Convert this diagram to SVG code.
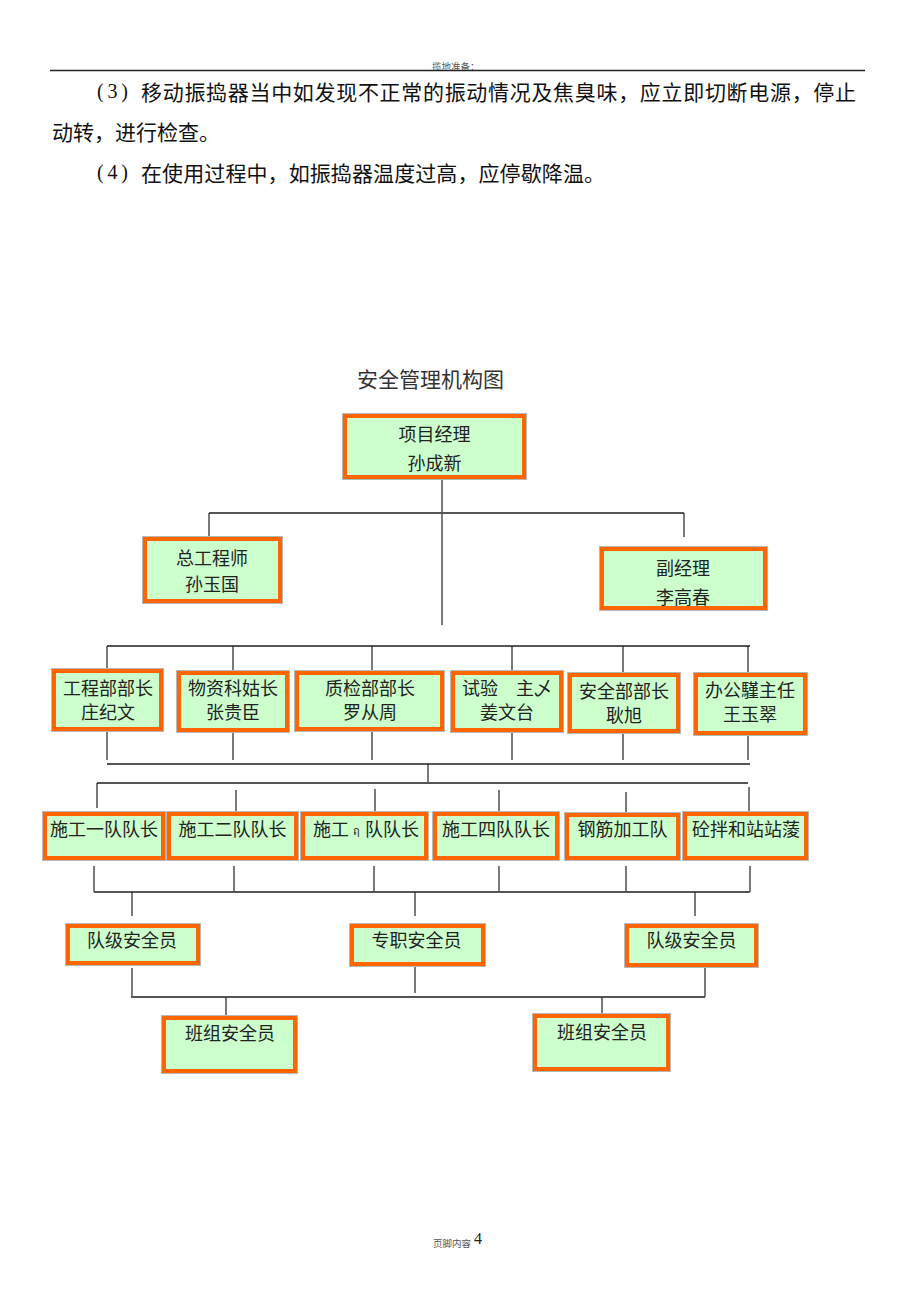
<svg xmlns="http://www.w3.org/2000/svg" width="920" height="1302" viewBox="0 0 920 1302">
<style>
.bg{fill:#fff}
.box{fill:#CCFFCC;stroke:#FF6600;stroke-width:4}
.edge{fill:none;stroke:#b8b8b8;stroke-width:1}
.t{font-family:"Noto Sans CJK SC","Noto Sans",sans-serif;font-size:18px;fill:#222;text-anchor:middle;dominant-baseline:central}
.body{font-family:"Noto Sans CJK SC",sans-serif;font-size:21px;fill:#111;dominant-baseline:central}
.num{font-family:"Liberation Serif",serif;font-size:20px;fill:#111;dominant-baseline:central}
.small{font-family:"Noto Sans CJK SC",sans-serif;font-size:9.5px;fill:#555;dominant-baseline:central}
.h{stroke:#555;stroke-width:2;fill:none}
.v{stroke:#222;stroke-width:1.2;fill:none}
</style>
<rect class="bg" x="0" y="0" width="920" height="1302"/>

<g id="page-header">
<text class="small" x="432" y="66">揽地准备：</text>
<line x1="50" y1="70.5" x2="865" y2="70.5" stroke="#222" stroke-width="1.5"/>
</g>

<g id="body-text">
<text class="num" x="97" y="91" textLength="31" lengthAdjust="spacing">(3)</text>
<text class="body" x="141" y="91" textLength="715" lengthAdjust="spacing">移动振捣器当中如发现不正常的振动情况及焦臭味，应立即切断电源，停止</text>
<text class="body" x="52" y="131">动转，进行检查。</text>
<text class="num" x="97" y="172" textLength="31" lengthAdjust="spacing">(4)</text>
<text class="body" x="141" y="172" textLength="464" lengthAdjust="spacing">在使用过程中，如振捣器温度过高，应停歇降温。</text>
</g>

<g id="title">
<text class="body" x="357" y="378" style="fill:#333">安全管理机构图</text>
</g>

<g id="connectors">
<line class="v" x1="442" y1="479" x2="442" y2="625"/>
<line class="h" x1="209" y1="513" x2="684" y2="513"/>
<line class="v" x1="209" y1="513" x2="209" y2="537" stroke-width="2"/>
<line class="v" x1="684" y1="513" x2="684" y2="537"/>

<line class="h" x1="107" y1="646" x2="750" y2="646"/>
<line class="v" x1="107" y1="646" x2="107" y2="670"/>
<line class="v" x1="233" y1="646" x2="233" y2="671"/>
<line class="v" x1="372" y1="646" x2="372" y2="671"/>
<line class="v" x1="512" y1="646" x2="512" y2="671"/>
<line class="v" x1="623" y1="646" x2="623" y2="673"/>
<line class="v" x1="748" y1="646" x2="748" y2="673"/>

<line class="v" x1="107" y1="731" x2="107" y2="760"/>
<line class="v" x1="233" y1="732" x2="233" y2="760"/>
<line class="v" x1="372" y1="731" x2="372" y2="760"/>
<line class="v" x1="512" y1="732" x2="512" y2="760"/>
<line class="v" x1="623" y1="733" x2="623" y2="760"/>
<line class="v" x1="748" y1="735" x2="748" y2="760"/>
<line class="h" x1="107" y1="764" x2="750" y2="764"/>
<line class="v" x1="428" y1="764" x2="428" y2="783"/>
<line class="h" x1="97" y1="783" x2="748" y2="783"/>
<line class="v" x1="97" y1="783" x2="97" y2="808"/>
<line class="v" x1="236" y1="790" x2="236" y2="812"/>
<line class="v" x1="375" y1="789" x2="375" y2="812"/>
<line class="v" x1="499" y1="790" x2="499" y2="812" stroke-width="2.5"/>
<line class="v" x1="626" y1="792" x2="626" y2="813"/>
<line class="v" x1="749" y1="787" x2="749" y2="812"/>

<line class="v" x1="94" y1="866" x2="94" y2="892"/>
<line class="v" x1="234" y1="866" x2="234" y2="892"/>
<line class="v" x1="374" y1="866" x2="374" y2="892"/>
<line class="v" x1="499" y1="866" x2="499" y2="892"/>
<line class="v" x1="626" y1="866" x2="626" y2="892"/>
<line class="v" x1="750" y1="866" x2="750" y2="892"/>
<line class="h" x1="94" y1="892" x2="750" y2="892"/>
<line class="v" x1="132" y1="892" x2="132" y2="916"/>
<line class="v" x1="415" y1="892" x2="415" y2="916"/>
<line class="v" x1="695" y1="892" x2="695" y2="916"/>

<line class="v" x1="132" y1="968" x2="132" y2="997"/>
<line class="v" x1="415" y1="966" x2="415" y2="993"/>
<line class="v" x1="705" y1="968" x2="705" y2="997"/>
<line class="h" x1="131" y1="997" x2="705" y2="997" stroke="#222"/>
<line class="v" x1="226" y1="997" x2="226" y2="1016"/>
<line class="v" x1="602" y1="997" x2="602" y2="1014"/>
</g>

<g id="n1">
<rect class="edge" x="342.5" y="413.5" width="184" height="66"/>
<rect class="box" x="345" y="416" width="179" height="61"/>
<text class="t" x="434.5" y="433">项目经理</text>
<text class="t" x="434.5" y="462">孙成新</text>
</g>
<g id="n2">
<rect class="edge" x="142.5" y="536.5" width="140" height="67"/>
<rect class="box" x="145" y="539" width="135" height="62"/>
<text class="t" x="212" y="557">总工程师</text>
<text class="t" x="212" y="583">孙玉国</text>
</g>
<g id="n3">
<rect class="edge" x="599.5" y="546.5" width="168" height="64"/>
<rect class="box" x="602" y="549" width="163" height="59"/>
<text class="t" x="683" y="567">副经理</text>
<text class="t" x="683" y="596">李高春</text>
</g>

<g id="n4">
<rect class="edge" x="51.5" y="668.5" width="112" height="63"/>
<rect class="box" x="54" y="671" width="107" height="58"/>
<text class="t" x="108" y="687">工程部部长</text>
<text class="t" x="108" y="711">庄纪文</text>
</g>
<g id="n5">
<rect class="edge" x="176.5" y="670.5" width="113" height="62"/>
<rect class="box" x="179" y="673" width="108" height="57"/>
<text class="t" x="233" y="687">物资科姑长</text>
<text class="t" x="233" y="711">张贵臣</text>
</g>
<g id="n6">
<rect class="edge" x="294.5" y="670.5" width="150" height="61"/>
<rect class="box" x="297" y="673" width="145" height="56"/>
<text class="t" x="370" y="687">质检部部长</text>
<text class="t" x="370" y="711">罗从周</text>
</g>
<g id="n7">
<rect class="edge" x="450.5" y="670.5" width="113" height="62"/>
<rect class="box" x="453" y="673" width="108" height="57"/>
<text class="t" x="507" y="687">试验　主乄</text>
<text class="t" x="507" y="711">姜文台</text>
</g>
<g id="n8">
<rect class="edge" x="567.5" y="672.5" width="113" height="61"/>
<rect class="box" x="570" y="675" width="108" height="56"/>
<text class="t" x="624" y="690">安全部部长</text>
<text class="t" x="624" y="714">耿旭</text>
</g>
<g id="n9">
<rect class="edge" x="693.5" y="672.5" width="114" height="63"/>
<rect class="box" x="696" y="675" width="109" height="58"/>
<text class="t" x="750" y="689">办公騹主任</text>
<text class="t" x="750" y="713">王玉翠</text>
</g>

<g id="n10">
<rect class="edge" x="42.5" y="811.5" width="123" height="49"/>
<rect class="box" x="45" y="814" width="118" height="44"/>
<text class="t" x="104" y="828">施工一队队长</text>
</g>
<g id="n11">
<rect class="edge" x="166.5" y="811.5" width="132" height="49"/>
<rect class="box" x="169" y="814" width="127" height="44"/>
<text class="t" x="232.5" y="828">施工二队队长</text>
</g>
<g id="n12">
<rect class="edge" x="300.5" y="811.5" width="128" height="49"/>
<rect class="box" x="303" y="814" width="123" height="44"/>
<text class="t" x="331" y="828">施工</text>
<text class="t" x="356" y="830" style="font-size:11px">ฤ</text>
<text class="t" x="392" y="828">队队长</text>
</g>
<g id="n13">
<rect class="edge" x="432.5" y="811.5" width="127" height="49"/>
<rect class="box" x="435" y="814" width="122" height="44"/>
<text class="t" x="496" y="828">施工四队队长</text>
</g>
<g id="n14">
<rect class="edge" x="564.5" y="812.5" width="116" height="48"/>
<rect class="box" x="567" y="815" width="111" height="43"/>
<text class="t" x="622.5" y="828">钢筋加工队</text>
</g>
<g id="n15">
<rect class="edge" x="682.5" y="811.5" width="126" height="49"/>
<rect class="box" x="685" y="814" width="121" height="44"/>
<text class="t" x="746" y="828">砼拌和站站蔆</text>
</g>

<g id="n16">
<rect class="edge" x="65.5" y="923.5" width="135" height="42"/>
<rect class="box" x="68" y="926" width="130" height="37"/>
<text class="t" x="132" y="939">队级安全员</text>
</g>
<g id="n17">
<rect class="edge" x="349.5" y="923.5" width="136" height="43"/>
<rect class="box" x="352" y="926" width="131" height="38"/>
<text class="t" x="416.5" y="939">专职安全员</text>
</g>
<g id="n18">
<rect class="edge" x="624.5" y="923.5" width="134" height="44"/>
<rect class="box" x="627" y="926" width="129" height="39"/>
<text class="t" x="691.5" y="939">队级安全员</text>
</g>

<g id="n19">
<rect class="edge" x="161.5" y="1015.5" width="136" height="58"/>
<rect class="box" x="164" y="1018" width="131" height="53"/>
<text class="t" x="230" y="1032">班组安全员</text>
</g>
<g id="n20">
<rect class="edge" x="532.5" y="1013.5" width="138" height="58"/>
<rect class="box" x="535" y="1016" width="133" height="53"/>
<text class="t" x="602" y="1031">班组安全员</text>
</g>

<g id="page-footer">
<text class="small" x="433" y="1243">页脚内容</text>
<text x="474" y="1244" style="font-family:'Liberation Serif',serif;font-size:16px;fill:#222">4</text>
</g>
</svg>
